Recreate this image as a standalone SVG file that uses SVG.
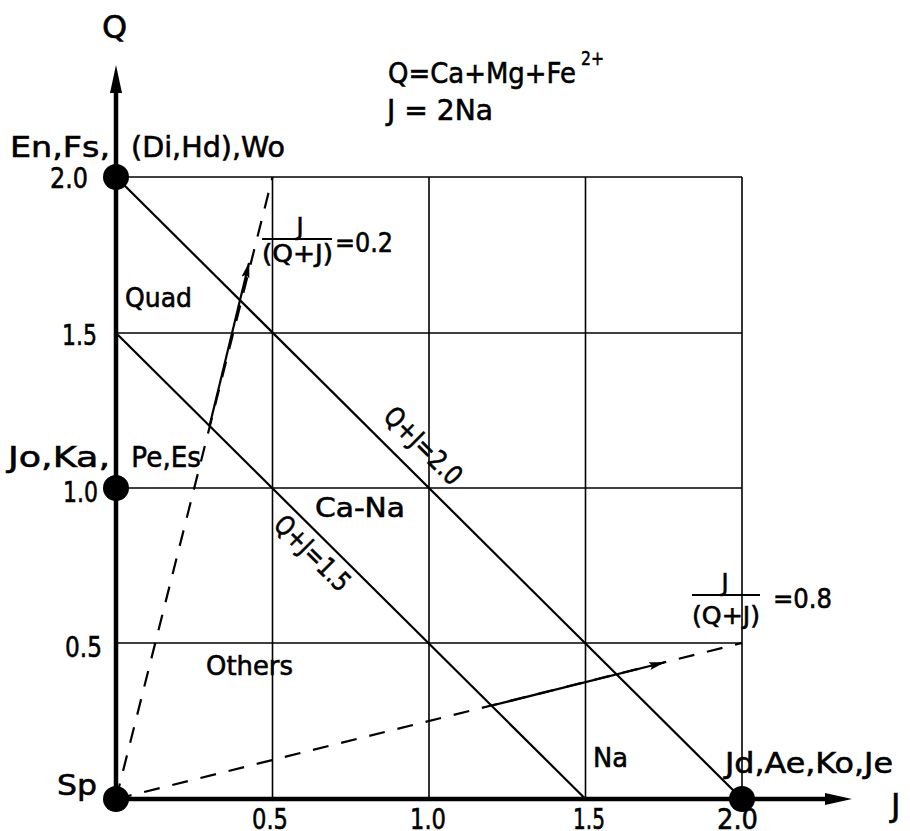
<svg xmlns="http://www.w3.org/2000/svg" width="910" height="831" viewBox="0 0 910 831">
<style>
text{font-family:"DejaVu Sans","Liberation Sans",sans-serif;fill:#000;stroke:#000;stroke-width:0.6px}
.lbl{font-size:29px}
.sm{font-size:27px}
.fr{font-size:24px}
.grid{stroke:#000;stroke-width:1.6;fill:none}
.diag{stroke:#000;stroke-width:2.2;fill:none}
.dash{stroke:#000;stroke-width:2.2;fill:none;stroke-dasharray:16 13}
.axis{stroke:#000;stroke-width:4.5;fill:none}
.arr{stroke:#000;stroke-width:2.2;fill:none;marker-end:url(#ah)}
.dot{fill:#000}
</style>
<defs>
<marker id="ah" markerUnits="userSpaceOnUse" markerWidth="18" markerHeight="10" refX="15" refY="4" orient="auto">
<path d="M0,0 L16,4 L0,8 L3,4 z" fill="#000"/>
</marker>
</defs>
<g id="grid">
<line class="grid" x1="116" y1="177" x2="742" y2="177"/>
<line class="grid" x1="116" y1="333" x2="742" y2="333"/>
<line class="grid" x1="116" y1="488" x2="742" y2="488"/>
<line class="grid" x1="116" y1="643" x2="742" y2="643"/>
<line class="grid" x1="272.5" y1="177" x2="272.5" y2="799"/>
<line class="grid" x1="429" y1="177" x2="429" y2="799"/>
<line class="grid" x1="585.5" y1="177" x2="585.5" y2="799"/>
<line class="grid" x1="742" y1="177" x2="742" y2="799"/>
</g>
<g id="connectors">
<line id="qj20" class="diag" x1="116" y1="177" x2="742" y2="799"/>
<line id="qj15" class="diag" x1="116" y1="333" x2="585.5" y2="799"/>
<line id="r02" class="dash" x1="116" y1="799" x2="272.5" y2="177"/>
<line id="r08" class="dash" x1="116" y1="799" x2="742" y2="643"/>
<line id="r02arrow" class="arr" x1="209.5" y1="426" x2="249" y2="263"/>
<line id="r08arrow" class="arr" x1="492" y1="705.5" x2="664" y2="662.5"/>
</g>
<g id="axes">
<line class="axis" x1="116" y1="799" x2="116" y2="86"/>
<polygon points="116,65 110,93 122,93" fill="#000"/>
<line class="axis" x1="116" y1="799" x2="830" y2="799"/>
<polygon points="852,799 825,793 825,805" fill="#000"/>
<text x="102" y="38" font-size="32">Q</text>
<text x="891" y="816" font-size="32">J</text>
</g>
<g id="legend">
<text class="lbl" x="388" y="83" textLength="188" lengthAdjust="spacingAndGlyphs">Q=Ca+Mg+Fe</text>
<text x="581" y="65" font-size="20" textLength="23" lengthAdjust="spacingAndGlyphs">2+</text>
<text class="lbl" x="387" y="120" textLength="106" lengthAdjust="spacingAndGlyphs">J = 2Na</text>
</g>
<g id="ticks">
<text class="lbl" x="50" y="188" textLength="38" lengthAdjust="spacingAndGlyphs">2.0</text>
<text class="lbl" x="62" y="345" textLength="35" lengthAdjust="spacingAndGlyphs">1.5</text>
<text class="lbl" x="63" y="502" textLength="35" lengthAdjust="spacingAndGlyphs">1.0</text>
<text class="lbl" x="65" y="657" textLength="37" lengthAdjust="spacingAndGlyphs">0.5</text>
<text class="lbl" x="252" y="829" textLength="36" lengthAdjust="spacingAndGlyphs">0.5</text>
<text class="lbl" x="410" y="829" textLength="36" lengthAdjust="spacingAndGlyphs">1.0</text>
<text class="lbl" x="573" y="829" textLength="32" lengthAdjust="spacingAndGlyphs">1.5</text>
<text class="lbl" x="717" y="829" textLength="41" lengthAdjust="spacingAndGlyphs">2.0</text>
</g>
<g id="node-en">
<circle class="dot" cx="116" cy="177" r="13"/>
<text class="lbl" y="157"><tspan x="10" textLength="100" lengthAdjust="spacingAndGlyphs">En,Fs,</tspan><tspan x="122" textLength="163" lengthAdjust="spacingAndGlyphs"> (Di,Hd),Wo</tspan></text>
</g>
<g id="node-jo">
<circle class="dot" cx="116" cy="488" r="13"/>
<text class="lbl" y="467"><tspan x="8" textLength="102" lengthAdjust="spacingAndGlyphs">Jo,Ka,</tspan><tspan x="123" textLength="78" lengthAdjust="spacingAndGlyphs"> Pe,Es</tspan></text>
</g>
<g id="node-sp">
<circle class="dot" cx="116" cy="799" r="13"/>
<text class="lbl" x="57" y="795" textLength="40" lengthAdjust="spacingAndGlyphs">Sp</text>
</g>
<g id="node-jd">
<circle class="dot" cx="742" cy="799" r="13"/>
<text class="lbl" x="725" y="773" textLength="168" lengthAdjust="spacingAndGlyphs">Jd,Ae,Ko,Je</text>
</g>
<g id="regions">
<text class="sm" x="125" y="307" textLength="67" lengthAdjust="spacingAndGlyphs">Quad</text>
<text class="sm" x="315" y="517" textLength="90" lengthAdjust="spacingAndGlyphs">Ca-Na</text>
<text class="sm" x="206" y="675" textLength="87" lengthAdjust="spacingAndGlyphs">Others</text>
<text class="sm" x="593" y="767" textLength="35" lengthAdjust="spacingAndGlyphs">Na</text>
</g>
<g id="line-labels">
<g transform="translate(423,446) rotate(44.8)"><text class="sm" x="-49" y="9" textLength="98" lengthAdjust="spacingAndGlyphs">Q+J=2.0</text></g>
<g transform="translate(312,553) rotate(44.8)"><text class="sm" x="-47" y="9" textLength="95" lengthAdjust="spacingAndGlyphs">Q+J=1.5</text></g>
</g>
<g id="ratio02">
<text class="fr" x="300" y="235" text-anchor="middle">J</text>
<line x1="262" y1="239" x2="332" y2="239" stroke="#000" stroke-width="2"/>
<text class="fr" x="262" y="262" textLength="71" lengthAdjust="spacingAndGlyphs">(Q+J)</text>
<text class="sm" x="335" y="252" textLength="58" lengthAdjust="spacingAndGlyphs">=0.2</text>
</g>
<g id="ratio08">
<text class="fr" x="725" y="591" text-anchor="middle">J</text>
<line x1="692" y1="595" x2="760" y2="595" stroke="#000" stroke-width="2"/>
<text class="fr" x="692" y="624" textLength="68" lengthAdjust="spacingAndGlyphs">(Q+J)</text>
<text class="sm" x="773" y="608" textLength="59" lengthAdjust="spacingAndGlyphs">=0.8</text>
</g>
</svg>
